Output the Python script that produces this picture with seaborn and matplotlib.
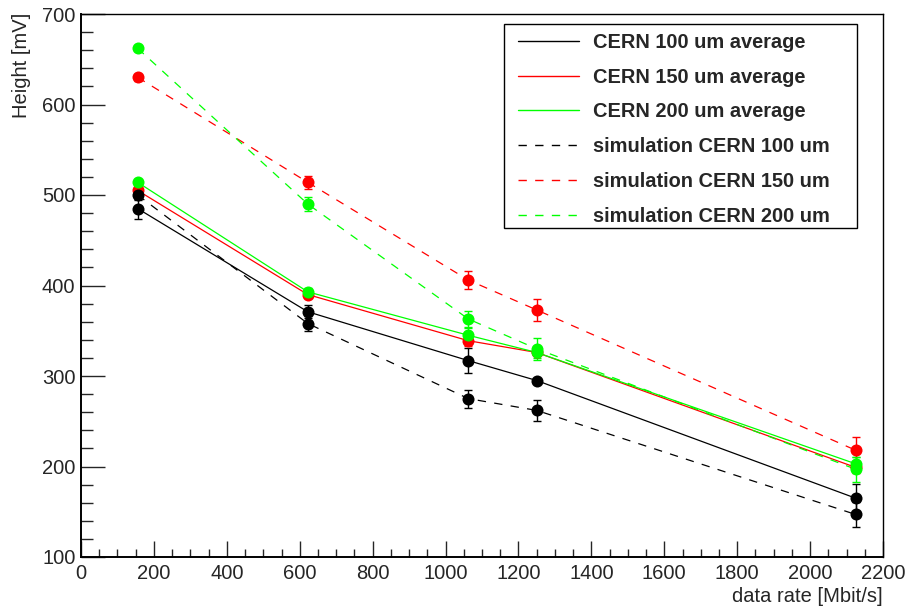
import matplotlib
matplotlib.use("Agg")
import matplotlib.pyplot as plt
from matplotlib.lines import Line2D
from matplotlib.patches import Rectangle
from matplotlib.ticker import MultipleLocator
import numpy as np
import pandas as pd
import seaborn as sns

# data rates [Mbit/s]
rates = [155.52, 622.08, 1062.5, 1250.0, 2125.0]

# measured pulse heights (averages) [mV]
avg_100 = [485, 371, 317, 295, 165]
avg_150 = [505, 390, 339, 326, 199]
avg_200 = [514, 393, 345, 326, 203]
err_avg_100 = [11, 7, 14, 3, 16]
err_avg_150 = [5, 4, 6, 4, 6]
err_avg_200 = [4, 4, 8, 6, 8]

# simulated pulse heights [mV]
sim_100 = [500, 358, 275, 262, 147]
sim_150 = [630, 514, 406, 373, 218]
sim_200 = [662, 490, 363, 330, 197]
err_sim_100 = [6, 8, 10, 12, 14]
err_sim_150 = [4, 7, 10, 12, 15]
err_sim_200 = [3, 8, 9, 12, 14]

labels = [
    "CERN 100 um average",
    "CERN 150 um average",
    "CERN 200 um average",
    "simulation CERN 100 um",
    "simulation CERN 150 um",
    "simulation CERN 200 um",
]

sns.set_style("white")
plt.rcParams["font.family"] = ["Liberation Sans", "DejaVu Sans"]
plt.rcParams["lines.scale_dashes"] = False

series = {
    labels[0]: (avg_100, err_avg_100, "#000000", "-"),
    labels[1]: (avg_150, err_avg_150, "#ff0000", "-"),
    labels[2]: (avg_200, err_avg_200, "#00ff00", "-"),
    labels[3]: (sim_100, err_sim_100, "#000000", (0, (6, 6))),
    labels[4]: (sim_150, err_sim_150, "#ff0000", (0, (6, 6))),
    labels[5]: (sim_200, err_sim_200, "#00ff00", (0, (6, 6))),
}

frames = []
for name, (vals, errs, _, _) in series.items():
    frames.append(pd.DataFrame({"rate": rates, "height": vals, "err": errs, "series": name}))
df = pd.concat(frames, ignore_index=True)

fig = plt.figure(figsize=(9.08, 6.08), dpi=100)
ax = fig.add_axes([81 / 908, 1 - 557 / 608, (883 - 81) / 908, (557 - 14) / 608])

draw_order = [labels[1], labels[2], labels[0], labels[3], labels[4], labels[5]]
for name in draw_order:
    _, _, color, ls = series[name]
    sub = df[df["series"] == name]
    sns.lineplot(data=sub, x="rate", y="height", color=color, linestyle=ls,
                 linewidth=0.9, ax=ax, legend=False, errorbar=None)
    ax.errorbar(sub["rate"], sub["height"], yerr=sub["err"], fmt="none",
                ecolor=color, elinewidth=1.0, capsize=2.6, capthick=1.0)
    sns.scatterplot(data=sub, x="rate", y="height", color=color, s=75,
                    linewidth=0, ax=ax, legend=False, zorder=3)

ax.set_xlim(0, 2200)
ax.set_ylim(100, 700)
ax.set_xlabel("")
ax.set_ylabel("")
ax.xaxis.set_major_locator(MultipleLocator(200))
ax.xaxis.set_minor_locator(MultipleLocator(50))
ax.yaxis.set_major_locator(MultipleLocator(100))
ax.yaxis.set_minor_locator(MultipleLocator(20))
ax.tick_params(axis="x", which="major", direction="in", length=11.5, width=1.0,
               labelsize=14.5, pad=5, top=False, bottom=True)
ax.tick_params(axis="x", which="minor", direction="in", length=5.8, width=1.0,
               top=False, bottom=True)
ax.tick_params(axis="y", which="major", direction="in", length=17, width=1.0,
               labelsize=14.5, pad=4, left=True, right=False)
ax.tick_params(axis="y", which="minor", direction="in", length=8.6, width=1.0,
               left=True, right=False)
for side in ["left", "bottom"]:
    ax.spines[side].set_linewidth(1.4)
for side in ["top", "right"]:
    ax.spines[side].set_linewidth(1.0)
for sp in ax.spines.values():
    sp.set_color("black")
    sp.set_visible(True)

fig.text(22 / 908, 1 - 13 / 608, "Height [mV]", rotation=90, ha="center", va="top",
         fontsize=14.5)
fig.text(883 / 908, 1 - 597 / 608, "data rate [Mbit/s]", ha="right", va="center",
         fontsize=14.5)

# legend box
fig.patches.append(Rectangle((504 / 908, 1 - 228 / 608), (857 - 504) / 908,
                             (228 - 24) / 608, transform=fig.transFigure,
                             fill=True, facecolor="white", edgecolor="black",
                             linewidth=1.0, zorder=5))
handles = [Line2D([], [], color=series[n][2], linestyle=series[n][3], linewidth=1.0)
           for n in labels]
leg = fig.legend(handles, labels, loc="upper left",
                 bbox_to_anchor=(518 / 908, 1 - 33 / 608),
                 frameon=False, borderpad=0, borderaxespad=0,
                 handlelength=61 / 20, handletextpad=0.7, labelspacing=0.785,
                 prop={"weight": "bold", "size": 14.4})
leg.set_zorder(6)

fig.savefig("out.png", dpi=100)
